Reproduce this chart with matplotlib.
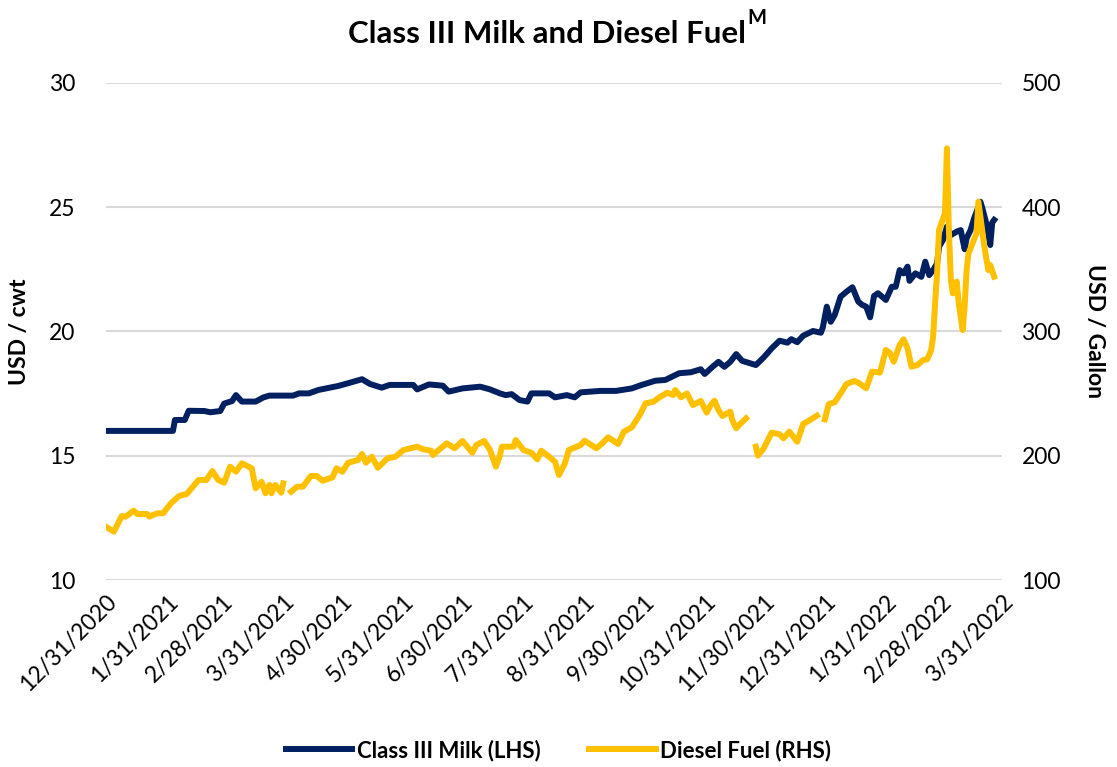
import numpy as np
import pandas as pd
import matplotlib
matplotlib.use("Agg")
import matplotlib.pyplot as plt

plt.rcParams['font.family'] = ['Lato', 'DejaVu Sans']

# Class III milk, USD / cwt (left axis)
milk_dates = [
    "2020-12-31", "2021-01-15", "2021-02-03", "2021-02-04", "2021-02-09", "2021-02-11",
    "2021-02-19", "2021-02-22", "2021-02-27", "2021-03-01", "2021-03-05", "2021-03-07",
    "2021-03-10", "2021-03-17", "2021-03-21", "2021-03-24", "2021-04-05", "2021-04-08",
    "2021-04-13", "2021-04-18", "2021-04-28", "2021-05-03", "2021-05-10", "2021-05-14",
    "2021-05-20", "2021-05-24", "2021-06-05", "2021-06-07", "2021-06-13", "2021-06-20",
    "2021-06-23", "2021-06-30", "2021-07-09", "2021-07-14", "2021-07-19", "2021-07-22",
    "2021-07-25", "2021-07-29", "2021-08-02", "2021-08-04", "2021-08-13", "2021-08-16",
    "2021-08-22", "2021-08-26", "2021-08-29", "2021-09-08", "2021-09-16", "2021-09-24",
    "2021-09-29", "2021-10-06", "2021-10-11", "2021-10-18", "2021-10-24", "2021-10-29",
    "2021-10-31", "2021-11-04", "2021-11-07", "2021-11-10", "2021-11-13", "2021-11-16",
    "2021-11-19", "2021-11-26", "2021-11-30", "2021-12-04", "2021-12-08", "2021-12-12",
    "2021-12-14", "2021-12-17", "2021-12-20", "2021-12-25", "2021-12-29", "2021-12-30",
    "2022-01-01", "2022-01-03", "2022-01-05", "2022-01-08", "2022-01-11", "2022-01-14",
    "2022-01-17", "2022-01-19", "2022-01-21", "2022-01-23", "2022-01-25", "2022-01-27",
    "2022-01-31", "2022-02-03", "2022-02-05", "2022-02-07", "2022-02-09", "2022-02-11",
    "2022-02-12", "2022-02-15", "2022-02-18", "2022-02-20", "2022-02-22", "2022-02-24",
    "2022-02-26", "2022-02-27", "2022-03-01", "2022-03-03", "2022-03-05", "2022-03-08",
    "2022-03-10", "2022-03-12", "2022-03-13", "2022-03-15", "2022-03-17", "2022-03-20",
    "2022-03-21", "2022-03-23", "2022-03-25", "2022-03-26", "2022-03-27",
]
milk_values = [
    16.00, 16.00, 16.00, 16.44, 16.44, 16.81,
    16.80, 16.75, 16.80, 17.10, 17.20, 17.44,
    17.18, 17.18, 17.35, 17.42, 17.42, 17.51,
    17.51, 17.65, 17.81, 17.92, 18.08, 17.89,
    17.74, 17.85, 17.85, 17.67, 17.87, 17.82,
    17.58, 17.71, 17.78, 17.67, 17.51, 17.44,
    17.48, 17.24, 17.18, 17.51, 17.51, 17.35,
    17.44, 17.35, 17.55, 17.61, 17.61, 17.71,
    17.85, 18.02, 18.05, 18.32, 18.36, 18.48,
    18.29, 18.58, 18.78, 18.58, 18.78, 19.09,
    18.82, 18.65, 18.96, 19.32, 19.63, 19.55,
    19.69, 19.57, 19.83, 20.02, 19.95, 20.17,
    21.00, 20.39, 20.66, 21.40, 21.60, 21.78,
    21.20, 21.07, 21.00, 20.57, 21.43, 21.54,
    21.27, 21.80, 21.80, 22.47, 22.34, 22.61,
    22.04, 22.34, 22.20, 22.81, 22.27, 22.47,
    22.74, 23.41, 23.68, 24.22, 23.88, 24.02,
    24.08, 23.31, 23.75, 24.08, 24.60, 25.22,
    24.96, 24.35, 23.48, 24.38, 24.49,
]

# Diesel fuel, USD / gallon (right axis); NaN marks the breaks in the series
diesel_dates = [
    "2020-12-31", "2021-01-04", "2021-01-08", "2021-01-10", "2021-01-14", "2021-01-16",
    "2021-01-21", "2021-01-22", "2021-01-26", "2021-01-29", "2021-02-02", "2021-02-06",
    "2021-02-10", "2021-02-16", "2021-02-20", "2021-02-23", "2021-02-26", "2021-03-01",
    "2021-03-04", "2021-03-07", "2021-03-10", "2021-03-15", "2021-03-17", "2021-03-20",
    "2021-03-22", "2021-03-24", "2021-03-25", "2021-03-27", "2021-03-30", "2021-03-31",
    "2021-04-02", "2021-04-04", "2021-04-07", "2021-04-10", "2021-04-14", "2021-04-17",
    "2021-04-20", "2021-04-25", "2021-04-27", "2021-04-30", "2021-05-03", "2021-05-08",
    "2021-05-10", "2021-05-12", "2021-05-15", "2021-05-18", "2021-05-23", "2021-05-27",
    "2021-05-31", "2021-06-07", "2021-06-10", "2021-06-14", "2021-06-15", "2021-06-22",
    "2021-06-26", "2021-06-30", "2021-07-05", "2021-07-07", "2021-07-11", "2021-07-14",
    "2021-07-17", "2021-07-19", "2021-07-20", "2021-07-26", "2021-07-27", "2021-07-31",
    "2021-08-04", "2021-08-07", "2021-08-09", "2021-08-13", "2021-08-16", "2021-08-18",
    "2021-08-21", "2021-08-23", "2021-08-29", "2021-08-31", "2021-09-06", "2021-09-09",
    "2021-09-12", "2021-09-17", "2021-09-20", "2021-09-24", "2021-09-28", "2021-10-01",
    "2021-10-05", "2021-10-08", "2021-10-12", "2021-10-15", "2021-10-16", "2021-10-19",
    "2021-10-22", "2021-10-25", "2021-10-29", "2021-11-01", "2021-11-03", "2021-11-05",
    "2021-11-07", "2021-11-09", "2021-11-13", "2021-11-14", "2021-11-16", "2021-11-18",
    "2021-11-21", "2021-11-23", "2021-11-26", "2021-11-27", "2021-11-30", "2021-12-04",
    "2021-12-08", "2021-12-10", "2021-12-13", "2021-12-17", "2021-12-20", "2021-12-23",
    "2021-12-27", "2021-12-29", "2021-12-31", "2022-01-02", "2022-01-05", "2022-01-08",
    "2022-01-11", "2022-01-15", "2022-01-17", "2022-01-21", "2022-01-24", "2022-01-28",
    "2022-01-31", "2022-02-02", "2022-02-04", "2022-02-07", "2022-02-09", "2022-02-11",
    "2022-02-13", "2022-02-16", "2022-02-19", "2022-02-21", "2022-02-23", "2022-02-24",
    "2022-02-25", "2022-02-26", "2022-02-27", "2022-03-02", "2022-03-03", "2022-03-04",
    "2022-03-05", "2022-03-06", "2022-03-08", "2022-03-09", "2022-03-11", "2022-03-12",
    "2022-03-13", "2022-03-14", "2022-03-16", "2022-03-18", "2022-03-19", "2022-03-20",
    "2022-03-22", "2022-03-24", "2022-03-25", "2022-03-27",
]
diesel_values = [
    142.9, 138.9, 151.5, 151.0, 155.8, 153.1,
    153.1, 151.0, 153.7, 153.7, 161.7, 167.6,
    169.2, 180.5, 180.5, 187.7, 180.5, 178.3,
    191.2, 187.2, 193.9, 189.9, 173.8, 179.1,
    169.8, 176.5, 169.8, 176.5, 170.3, 177.8,
    np.nan, 171.1, 175.1, 175.1, 183.7, 183.7,
    179.9, 182.6, 189.9, 187.2, 194.4, 196.6,
    201.4, 194.4, 199.2, 190.4, 198.0, 199.2,
    204.6, 207.3, 205.2, 204.1, 200.6, 210.0,
    206.0, 211.9, 202.4, 208.6, 211.9, 204.6,
    191.2, 200.0, 207.3, 207.3, 212.7, 204.6,
    202.4, 197.1, 204.1, 199.2, 195.2, 184.5,
    193.9, 204.6, 208.6, 212.1, 206.0, 210.0,
    214.9, 209.5, 219.4, 222.9, 232.8, 242.2,
    243.5, 247.0, 250.7, 248.9, 252.9, 247.0,
    250.2, 240.8, 244.1, 234.7, 240.8, 244.3,
    236.8, 232.0, 235.5, 228.8, 222.1, 225.6,
    230.1, np.nan, 207.3, 200.1, 206.0, 218.6,
    217.3, 214.0, 219.4, 211.3, 225.6, 228.3,
    232.3, np.nan, 229.3, 241.6, 243.0, 250.2,
    257.7, 260.2, 258.8, 254.3, 267.7, 266.9,
    285.1, 283.0, 275.7, 289.1, 293.7, 286.4,
    271.7, 273.0, 277.1, 277.6, 285.1, 295.8,
    322.7, 346.8, 381.7, 395.1, 447.4, 381.7,
    341.5, 330.7, 340.2, 322.7, 301.2, 320.0,
    349.5, 363.0, 371.0, 379.0, 404.5, 392.4,
    368.3, 349.5, 353.5, 344.1,
]

month_ticks = pd.date_range("2020-12-31", "2022-03-31", freq="ME")
tick_labels = [f"{d.month}/{d.day}/{d.year}" for d in month_ticks]

navy = "#002060"
gold = "#FFC000"

fig = plt.figure(figsize=(11.17, 7.67), dpi=100)
ax = fig.add_axes([0.0949, 0.2438, 0.8022, 0.648])
ax2 = ax.twinx()

ax.plot(pd.to_datetime(milk_dates), milk_values, color=navy, lw=4.3,
        solid_joinstyle="round", label="Class III Milk (LHS)", zorder=3)
ax2.plot(pd.to_datetime(diesel_dates), diesel_values, color=gold, lw=4.3,
         solid_joinstyle="round", label="Diesel Fuel (RHS)", zorder=3)

ax.set_xlim(month_ticks[0], month_ticks[-1])
ax.set_ylim(10, 30)
ax2.set_ylim(100, 500)
ax.set_yticks([10, 15, 20, 25, 30])
ax2.set_yticks([100, 200, 300, 400, 500])
ax.yaxis.grid(True, color="#D9D9D9", lw=1.5)
ax.set_axisbelow(True)

ax.set_xticks(month_ticks)
ax.set_xticklabels(tick_labels, rotation=45, ha="right", rotation_mode="anchor")

for a in (ax, ax2):
    for s in a.spines.values():
        s.set_visible(False)
    a.tick_params(length=0, labelsize=16.5, colors="black")
ax.tick_params(axis="y", pad=22)
ax2.tick_params(axis="y", pad=14)
ax.tick_params(axis="x", pad=8, labelsize=16.5)

ax.set_ylabel("USD / cwt", fontsize=16.5, fontweight="bold", labelpad=14)
ax2.set_ylabel("USD / Gallon", fontsize=16.5, fontweight="bold", rotation=270,
               labelpad=32)

t = fig.text(0.49, 0.956, "Class III Milk and Diesel Fuel", ha="center",
             va="center", fontsize=22.5, fontweight="bold")
fig.canvas.draw()
bb = t.get_window_extent()
fig.text(bb.x1 / fig.bbox.width + 0.0005, 0.976, "M", ha="left", va="center",
         fontsize=14.5, fontweight="bold")

h1, l1 = ax.get_legend_handles_labels()
h2, l2 = ax2.get_legend_handles_labels()
fig.legend(h1 + h2, l1 + l2, loc="center", bbox_to_anchor=(0.5, 0.022), ncol=2,
           frameon=False, prop={"weight": "bold", "size": 16}, handlelength=3,
           columnspacing=2.2, handletextpad=0.2)

fig.savefig("out.png", dpi=100)
